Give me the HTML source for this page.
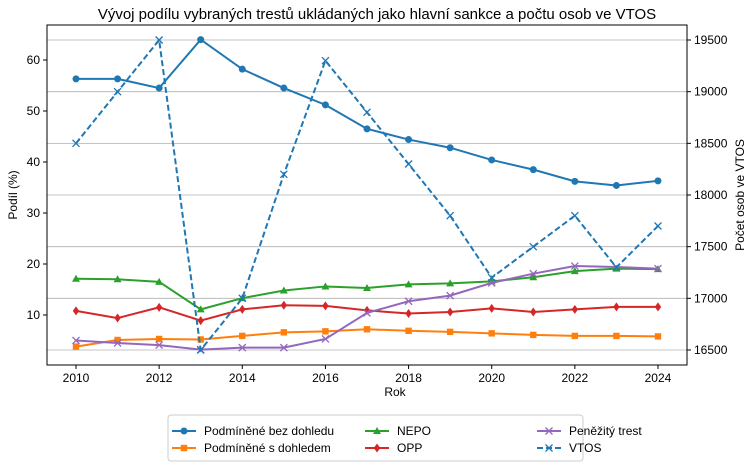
<!DOCTYPE html>
<html><head><meta charset="utf-8"><style>
body{margin:0;background:#fff}
svg text{font-family:"Liberation Sans","DejaVu Sans",sans-serif;fill:#000}
</style></head><body>
<svg id="s" width="755" height="463" xmlns="http://www.w3.org/2000/svg">
<text x="377" y="19" font-size="15" text-anchor="middle">Vývoj podílu vybraných trestů ukládaných jako hlavní sankce a počtu osob ve VTOS</text>
<g id="g"></g>
<rect x="47" y="25" width="640" height="340" fill="none" stroke="#000" stroke-width="1"/>
<text x="395" y="396" font-size="12" text-anchor="middle">Rok</text>
<text transform="translate(17,195) rotate(-90)" font-size="12" text-anchor="middle">Podíl (%)</text>
<text transform="translate(744,195) rotate(-90)" font-size="12" text-anchor="middle">Počet osob ve VTOS</text>
<rect x="168" y="415" width="415" height="46" rx="3" fill="#fff" stroke="#ccc"/>
<g id="leg" font-size="12"></g>
</svg>
<script>
const NS="http://www.w3.org/2000/svg",g=document.getElementById('g'),lg=document.getElementById('leg');
function el(p,t,a,txt){const e=document.createElementNS(NS,t);for(const k in a)e.setAttribute(k,a[k]);if(txt!=null)e.textContent=txt;p.appendChild(e);return e;}
const X=i=>76+i*41.57, YL=v=>366-5.1*v, YR=v=>350-(v-16500)*0.10333;
for(let v=16500;v<=19500;v+=500){el(g,'line',{x1:47,x2:687,y1:YR(v),y2:YR(v),stroke:'#b0b0b0','stroke-width':0.8});
el(g,'line',{x1:687,x2:691,y1:YR(v),y2:YR(v),stroke:'#000'});el(g,'text',{x:694,y:YR(v)+4,'font-size':12},v);}
for(let v=10;v<=60;v+=10){el(g,'line',{x1:43,x2:47,y1:YL(v),y2:YL(v),stroke:'#000'});el(g,'text',{x:40,y:YL(v)+4,'font-size':12,'text-anchor':'end'},v);}
for(let y=2010;y<=2024;y+=2){const x=X(y-2010);el(g,'line',{x1:x,x2:x,y1:365,y2:369,stroke:'#000'});el(g,'text',{x:x,y:382,'font-size':12,'text-anchor':'middle'},y);}
function mk(p,m,x,y,c){
 if(m=='o')el(p,'circle',{cx:x,cy:y,r:3.5,fill:c});
 else if(m=='s')el(p,'rect',{x:x-3.2,y:y-3.2,width:6.4,height:6.4,fill:c});
 else if(m=='^')el(p,'polygon',{points:`${x},${y-4} ${x-4},${y+3} ${x+4},${y+3}`,fill:c});
 else if(m=='d')el(p,'polygon',{points:`${x},${y-4.5} ${x-3.2},${y} ${x},${y+4.5} ${x+3.2},${y}`,fill:c});
 else el(p,'path',{d:`M${x-3.5},${y-3.5}L${x+3.5},${y+3.5}M${x-3.5},${y+3.5}L${x+3.5},${y-3.5}`,stroke:c,'stroke-width':1.3});
}
const S=[
['Podmíněné bez dohledu','#1f77b4','o',[56.3,56.3,54.5,64,58.2,54.5,51.2,46.5,44.4,42.8,40.4,38.5,36.2,35.4,36.3]],
['Podmíněné s dohledem','#ff7f0e','s',[3.8,5.1,5.3,5.2,5.9,6.6,6.8,7.2,6.9,6.7,6.4,6.1,5.9,5.9,5.8]],
['NEPO','#2ca02c','^',[17.1,17,16.5,11.1,13.3,14.8,15.6,15.3,16,16.2,16.6,17.4,18.6,19.1,19]],
['OPP','#d62728','d',[10.8,9.4,11.5,8.9,11.1,11.9,11.8,10.9,10.3,10.6,11.3,10.6,11.1,11.6,11.6]],
['Peněžitý trest','#9467bd','x',[5,4.5,4.1,3.2,3.6,3.6,5.3,10.4,12.7,13.8,16.3,18.1,19.6,19.4,19.1]],
['VTOS','#1f77b4','x',[18500,19000,19500,16500,17000,18200,19300,18800,18300,17800,17200,17500,17800,17300,17700],1]];
S.forEach(s=>{const f=s[4]?YR:YL;const pts=s[3].map((v,i)=>[X(i),f(v)]);
 el(g,'polyline',{points:pts.map(p=>p.join(',')).join(' '),fill:'none',stroke:s[1],'stroke-width':2,'stroke-dasharray':s[4]?'6,3':''});
 pts.forEach(p=>mk(g,s[2],p[0],p[1],s[1]));});
const pos=[[180,435],[180,452],[373,435],[373,452],[545,435],[545,452]];
S.forEach((s,i)=>{const [x,y]=pos[i];el(lg,'line',{x1:x-8,x2:x+16,y1:y-4,y2:y-4,stroke:s[1],'stroke-width':2,'stroke-dasharray':s[4]?'6,3':''});
 mk(lg,s[2],x+4,y-4,s[1]);el(lg,'text',{x:x+24,y:y},s[0]);});
</script>
</body></html>
